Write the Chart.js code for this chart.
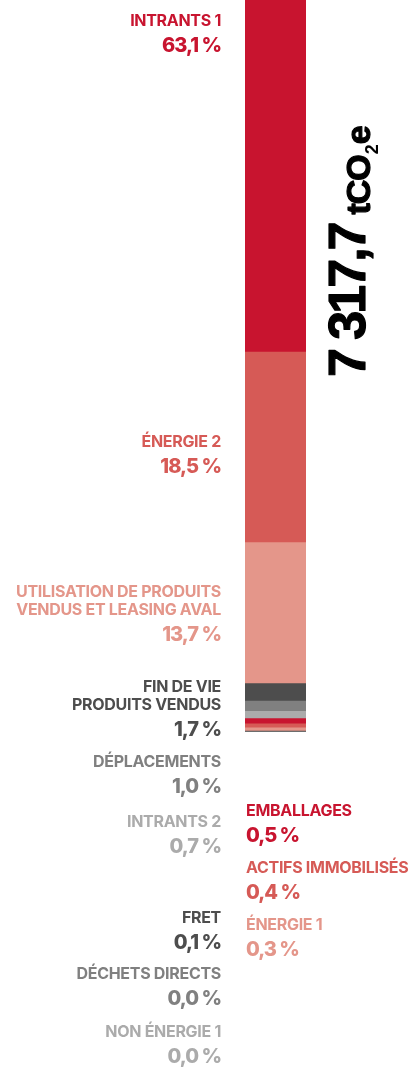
<!DOCTYPE html>
<html lang="fr">
<head>
<meta charset="utf-8">
<script src="https://cdn.jsdelivr.net/npm/chart.js@4.4.1/dist/chart.umd.min.js"></script>
<style>
  html, body { margin: 0; padding: 0; background: #fff; }
  #wrap { position: relative; width: 409px; height: 1067px; }
</style>
</head>
<body>
<div id="wrap"><canvas id="chart"></canvas></div>
<script>
// Postes d'émissions, du bas de la barre vers le haut
const categories = [
  ['NON ÉNERGIE 1'],
  ['DÉCHETS DIRECTS'],
  ['FRET'],
  ['ÉNERGIE 1'],
  ['ACTIFS IMMOBILISÉS'],
  ['EMBALLAGES'],
  ['INTRANTS 2'],
  ['DÉPLACEMENTS'],
  ['FIN DE VIE', 'PRODUITS VENDUS'],
  ['UTILISATION DE PRODUITS', 'VENDUS ET LEASING AVAL'],
  ['ÉNERGIE 2'],
  ['INTRANTS 1'],
];
const shares = [0.0, 0.0, 0.1, 0.3, 0.4, 0.5, 0.7, 1.0, 1.7, 13.7, 18.5, 63.1];
const totalEmissions = 7317.7;

// Styles et positions des étiquettes
const colors = ['#ababab', '#808080', '#4d4d4d', '#e4968a', '#d65a56', '#c8142f',
  '#ababab', '#808080', '#4d4d4d', '#e4968a', '#d65a56', '#c8142f'];
const labelSide = ['left', 'left', 'left', 'right', 'right', 'right',
  'left', 'left', 'left', 'left', 'left', 'left'];
const valueBaseline = [1063, 1005, 949, 956, 899, 842, 853, 793, 736, 641, 473, 52];
const visibleMax = 71.1; // la barre INTRANTS 1 déborde en haut

function fmtPct(v) {
  return v.toFixed(1).replace('.', ',') + '\u00a0%';
}

function fmtTotal(v) {
  const [int, dec] = v.toFixed(1).split('.');
  return int.replace(/\B(?=(\d{3})+(?!\d))/g, ' ') + ',' + dec;
}

const labelsPlugin = {
  id: 'sideLabels',
  afterDraw(chart) {
    const { ctx, chartArea } = chart;
    ctx.save();
    ctx.textBaseline = 'alphabetic';
    categories.forEach((lines, i) => {
      const left = labelSide[i] === 'left';
      const x = left ? chartArea.left - 24 : chartArea.left + 1;
      ctx.textAlign = left ? 'right' : 'left';
      ctx.fillStyle = colors[i];
      const vb = valueBaseline[i];
      ctx.font = '800 20px Inter';
      ctx.letterSpacing = '-1px';
      ctx.fillText(fmtPct(shares[i]), x, vb);
      ctx.font = '700 16px Inter';
      ctx.letterSpacing = '-0.3px';
      lines.forEach((line, j) => {
        const y = vb - 26 - (lines.length - 1 - j) * 18.5;
        ctx.fillText(line, x, y);
      });
    });
    ctx.restore();

    // total, écrit verticalement à droite de la barre
    ctx.save();
    ctx.translate(chartArea.right + 59, 377);
    ctx.rotate(-Math.PI / 2);
    ctx.fillStyle = '#000';
    ctx.strokeStyle = '#000';
    ctx.lineWidth = 1.2;
    ctx.lineJoin = 'round';
    ctx.textAlign = 'left';
    ctx.textBaseline = 'alphabetic';
    ctx.font = '700 52px "Liberation Sans"';
    ctx.letterSpacing = '-3px';
    const num = fmtTotal(totalEmissions);
    ctx.fillText(num, 0, 0);
    ctx.strokeText(num, 0, 0);
    let x = ctx.measureText(num).width + 10;
    ctx.font = '700 34px "Liberation Sans"';
    ctx.letterSpacing = '-1px';
    ctx.fillText('tCO', x, 5);
    ctx.strokeText('tCO', x, 5);
    x += ctx.measureText('tCO').width + 1;
    ctx.font = '700 18px "Liberation Sans"';
    ctx.fillText('2', x, 13);
    x += ctx.measureText('2').width + 1;
    ctx.font = '700 34px "Liberation Sans"';
    ctx.fillText('e', x, 5);
    ctx.strokeText('e', x, 5);
    ctx.restore();
  },
};

new Chart(document.getElementById('chart'), {
  type: 'bar',
  data: {
    labels: [''],
    datasets: categories.map((lines, i) => ({
      label: lines.join(' '),
      data: [shares[i]],
      backgroundColor: colors[i],
      borderWidth: 0,
      barPercentage: 1,
      categoryPercentage: 1,
    })),
  },
  options: {
    responsive: true,
    maintainAspectRatio: false,
    animation: false,
    layout: { padding: { left: 245, right: 103, top: 0, bottom: 335 } },
    plugins: { legend: { display: false }, tooltip: { enabled: false } },
    scales: {
      x: { stacked: true, display: false },
      y: { stacked: true, display: false, min: 0, max: visibleMax },
    },
  },
  plugins: [labelsPlugin],
});
</script>
</body>
</html>
